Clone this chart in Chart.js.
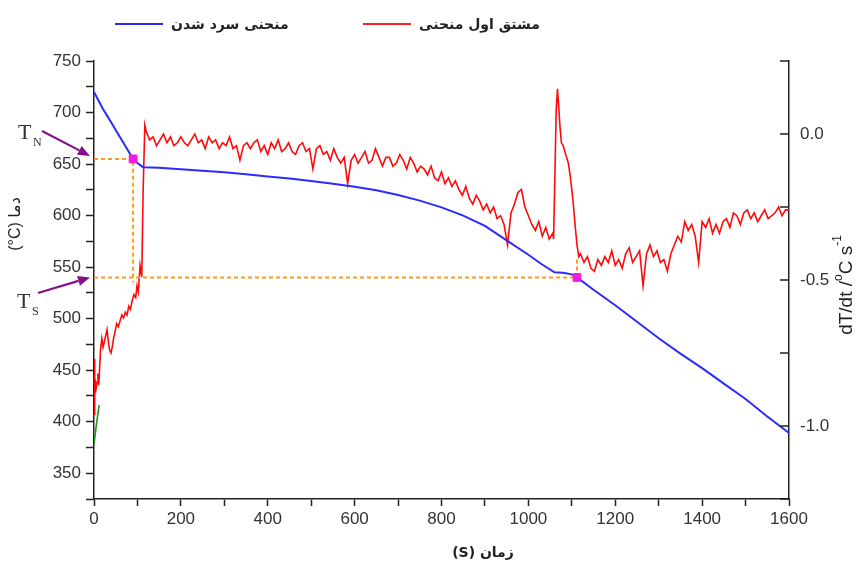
<!DOCTYPE html>
<html><head><meta charset="utf-8">
<script src="https://cdn.jsdelivr.net/npm/chart.js@4.4.1/dist/chart.umd.min.js"></script>
<style>html,body{margin:0;padding:0;background:#fff}#wrap{width:861px;height:566px}</style>
</head><body><div id="wrap"><canvas id="c" width="861" height="566"></canvas></div>
<script>
// ---- data ----
const legendLabels = ['منحنی سرد شدن', 'مشتق اول منحنی'];
const coolT = [0,10,20,30,40,50,60,70,80,90,100,113,150,200,250,300,350,400,450,500,550,600,650,700,750,800,850,900,950,1000,1030,1060,1080,1100,1112,1150,1200,1250,1300,1350,1400,1450,1500,1550,1600];
const coolV = [720,712,704,697,690,683,676,669,662,655,651,647,646.5,645,643.5,642,640,638,636,633.5,631,628,624.5,620,614.5,608,600,590,576,562,553,545,544.5,543,540,528,513,497,481,466,452,437,422,405,389];

const derivT = [0,1,2,3,5,7,9,11,13,15,18,21,24,27,30,33,36,39,42,45,48,52,56,60,64,68,72,76,80,84,88,92,96,99,102,106,110,113,117,
120,128,136,144,152,160,168,176,184,192,
200,208,216,224,232,240,248,256,264,272,
280,288,296,304,312,320,328,336,344,352,
360,368,376,384,392,400,408,416,424,432,
440,448,456,464,472,480,488,496,504,512,
520,528,536,544,552,560,568,576,584,592,
600,608,616,624,632,640,648,656,664,672,
680,688,696,704,712,720,728,736,744,752,
760,768,776,784,792,800,808,816,824,832,
840,848,856,864,872,880,888,896,904,912,
920,928,936,944,952,960,968,976,984,992,
1000,1008,1016,1024,1032,1040,1048,1056,
1058,1061,1064,1067,1070,1073,1076,1080,1084,1088,1092,1096,1100,1104,1108,1112,1116,
1120,1128,1136,1144,1152,1160,1168,1176,1184,1192,
1200,1208,1216,1224,1232,1240,1248,1256,1264,1272,
1280,1288,1296,1304,1312,1320,1328,1336,1344,1352,
1360,1368,1376,1384,1392,1400,1408,1416,1424,1432,
1440,1448,1456,1464,1472,1480,1488,1496,1504,1512,
1520,1528,1536,1544,1552,1560,1568,1576,1584,1592,1600];
const derivV = [-0.96,-0.77,-0.90,-0.84,-0.87,-0.85,-0.82,-0.86,-0.80,-0.74,-0.70,-0.73,-0.71,-0.69,-0.67,-0.71,-0.74,-0.75,-0.73,-0.70,-0.68,-0.65,-0.66,-0.64,-0.62,-0.63,-0.61,-0.62,-0.59,-0.60,-0.57,-0.55,-0.56,-0.52,-0.54,-0.45,-0.49,-0.20,0.03,
0.01,-0.02,-0.01,-0.04,-0.02,0.00,-0.03,-0.01,-0.04,-0.03,
-0.01,-0.03,-0.04,-0.02,0.00,-0.03,-0.02,-0.05,-0.01,-0.03,
-0.02,-0.05,-0.03,-0.04,-0.01,-0.05,-0.04,-0.09,-0.04,-0.03,
-0.05,-0.03,-0.02,-0.06,-0.04,-0.07,-0.03,-0.05,-0.02,-0.06,
-0.05,-0.03,-0.06,-0.07,-0.04,-0.03,-0.06,-0.05,-0.12,-0.05,
-0.04,-0.07,-0.06,-0.09,-0.05,-0.08,-0.10,-0.08,-0.17,-0.09,
-0.07,-0.10,-0.08,-0.06,-0.10,-0.09,-0.05,-0.08,-0.11,-0.08,
-0.08,-0.11,-0.10,-0.07,-0.09,-0.12,-0.08,-0.10,-0.13,-0.11,
-0.12,-0.14,-0.11,-0.15,-0.16,-0.13,-0.17,-0.15,-0.18,-0.16,
-0.19,-0.21,-0.18,-0.22,-0.24,-0.21,-0.23,-0.26,-0.24,-0.27,
-0.25,-0.29,-0.28,-0.31,-0.38,-0.27,-0.24,-0.20,-0.19,-0.25,
-0.28,-0.31,-0.33,-0.30,-0.35,-0.32,-0.36,-0.34,
-0.36,-0.15,0.08,0.155,0.09,0.02,-0.03,-0.04,-0.06,-0.08,-0.10,-0.14,-0.19,-0.25,-0.32,-0.38,-0.42,
-0.41,-0.44,-0.42,-0.46,-0.47,-0.43,-0.45,-0.42,-0.44,-0.40,
-0.45,-0.43,-0.46,-0.41,-0.39,-0.44,-0.42,-0.40,-0.52,-0.41,
-0.38,-0.42,-0.40,-0.44,-0.43,-0.47,-0.41,-0.38,-0.35,-0.37,
-0.30,-0.33,-0.31,-0.35,-0.44,-0.30,-0.32,-0.29,-0.34,-0.31,
-0.34,-0.30,-0.29,-0.32,-0.27,-0.28,-0.31,-0.27,-0.26,-0.29,
-0.27,-0.30,-0.28,-0.26,-0.29,-0.28,-0.27,-0.25,-0.28,-0.26,-0.26];

const greenT = [0,4,8,12];
const greenV = [378,392,405,416];
const tnT = [0,90,90];
const tnV = [655,655,535];
const tsT = [0,1112,1112];
const tsV = [540,540,558];
const markT = [90,1112];
const markV = [655,540];

const xTicks = [0,100,200,300,400,500,600,700,800,900,1000,1100,1200,1300,1400,1500,1600];
const xLabels = ['0','','200','','400','','600','','800','','1000','','1200','','1400','','1600'];
const yTicks = [325,350,375,400,425,450,475,500,525,550,575,600,625,650,675,700,725,750];
const yLabels = ['','350','','400','','450','','500','','550','','600','','650','','700','','750'];
const y2Ticks = [-1.25,-1.0,-0.75,-0.5,-0.25,0,0.25];
const y2Labels = ['','-1.0','','-0.5','','0.0',''];

const pts = (t, v) => t.map((x, i) => ({x: x, y: v[i]}));
const labelFor = (ticks, labels) => (val) => { const i = ticks.findIndex(t => Math.abs(t - val) < 1e-6); return i >= 0 ? labels[i] : ''; };

const AX = '#222';
const TICKFONT = {family: "'Liberation Sans', Arial, sans-serif", size: 17};

const overlay = {
  id: 'overlay',
  afterDraw(chart) {
    const ctx = chart.ctx, ca = chart.chartArea, ys = chart.scales.y, yr = chart.scales.y2;
    ctx.save();
    // inward ticks on right axis
    ctx.strokeStyle = AX; ctx.lineWidth = 1.5;
    y2Ticks.forEach(v => { const py = yr.getPixelForValue(v); ctx.beginPath(); ctx.moveTo(ca.right - 9, py); ctx.lineTo(ca.right, py); ctx.stroke(); });
    // legend
    const items = [{x: 115, color: '#2b2bff', text: legendLabels[0]}, {x: 363, color: '#ff2020', text: legendLabels[1]}];
    ctx.font = "bold 14px 'DejaVu Sans'";
    ctx.textBaseline = 'middle'; ctx.textAlign = 'left'; ctx.fillStyle = '#222';
    items.forEach(it => {
      ctx.strokeStyle = it.color; ctx.lineWidth = 2;
      ctx.beginPath(); ctx.moveTo(it.x, 24); ctx.lineTo(it.x + 48, 24); ctx.stroke();
      ctx.fillText(it.text, it.x + 56, 25);
    });
    // x title
    ctx.font = "bold 14px 'DejaVu Sans'"; ctx.textAlign = 'center';
    ctx.fillText('(S) زمان', 483, 553);
    // left title
    ctx.save(); ctx.translate(16, 224); ctx.rotate(-Math.PI / 2);
    ctx.font = "16px 'Liberation Sans', 'DejaVu Sans'"; ctx.textAlign = 'center';
    ctx.fillText('(°C) دما', 0, 0);
    ctx.restore();
    // right title
    ctx.save(); ctx.translate(847, 285); ctx.rotate(-Math.PI / 2);
    const parts = [['dT/dt /', 19, 0], ['o', 12, -8], ['C s', 19, 0], ['-1', 12, -9]];
    let total = 0;
    parts.forEach(p => { ctx.font = p[1] + "px 'Liberation Sans'"; total += ctx.measureText(p[0]).width; });
    let cx = -total / 2; ctx.textAlign = 'left';
    parts.forEach(p => { ctx.font = p[1] + "px 'Liberation Sans'"; ctx.fillText(p[0], cx, p[2]); cx += ctx.measureText(p[0]).width; });
    ctx.restore();
    // TN / TS labels
    ctx.fillStyle = '#333'; ctx.textBaseline = 'alphabetic'; ctx.textAlign = 'left';
    ctx.font = "22px 'Liberation Serif'"; ctx.fillText('T', 18, 139);
    ctx.font = "12px 'Liberation Serif'"; ctx.fillText('N', 33, 146);
    ctx.font = "22px 'Liberation Serif'"; ctx.fillText('T', 17, 308);
    ctx.font = "12px 'Liberation Serif'"; ctx.fillText('S', 32, 315);
    // arrows
    const arrow = (x0, y0, x1, y1) => {
      ctx.strokeStyle = '#85108a'; ctx.fillStyle = '#85108a'; ctx.lineWidth = 2.2;
      const a = Math.atan2(y1 - y0, x1 - x0), L = 12, W = 5;
      const bx = x1 - L * Math.cos(a), by = y1 - L * Math.sin(a);
      ctx.beginPath(); ctx.moveTo(x0, y0); ctx.lineTo(bx, by); ctx.stroke();
      ctx.beginPath(); ctx.moveTo(x1, y1);
      ctx.lineTo(bx + W * Math.sin(a), by - W * Math.cos(a));
      ctx.lineTo(bx - W * Math.sin(a), by + W * Math.cos(a));
      ctx.closePath(); ctx.fill();
    };
    arrow(42, 131, ca.left - 4, ys.getPixelForValue(tnV[0]) - 3);
    arrow(38, 293, ca.left - 4, ys.getPixelForValue(tsV[0]));
    ctx.restore();
  }
};

new Chart(document.getElementById('c'), {
  type: 'line',
  data: {
    datasets: [
      {label: 'marks', type: 'scatter', data: pts(markT, markV), yAxisID: 'y', pointStyle: 'rect', pointRadius: 5.5, backgroundColor: '#f01ce0', borderColor: '#f01ce0', order: 0},
      {label: 'tn', data: pts(tnT, tnV), yAxisID: 'y', borderColor: '#ff9a1a', borderWidth: 2, borderDash: [4, 3], pointRadius: 0, order: 1},
      {label: 'ts', data: pts(tsT, tsV), yAxisID: 'y', borderColor: '#ff9a1a', borderWidth: 2, borderDash: [4, 3], pointRadius: 0, order: 1},
      {label: legendLabels[0], data: pts(coolT, coolV), yAxisID: 'y', borderColor: '#2b2bff', borderWidth: 2, pointRadius: 0, order: 2},
      {label: legendLabels[1], data: pts(derivT, derivV), yAxisID: 'y2', borderColor: '#ff0a0a', borderWidth: 1.6, pointRadius: 0, order: 3},
      {label: 'green', data: pts(greenT, greenV), yAxisID: 'y', borderColor: '#1a9a1a', borderWidth: 1.6, pointRadius: 0, order: 4}
    ]
  },
  options: {
    responsive: false, animation: false, devicePixelRatio: 1,
    layout: {padding: {top: 61, left: 0, right: 0, bottom: 0}},
    plugins: {legend: {display: false}, tooltip: {enabled: false}},
    elements: {line: {tension: 0}},
    scales: {
      x: {type: 'linear', position: 'bottom', min: 0, max: 1600,
        afterBuildTicks: s => { s.ticks = xTicks.map(v => ({value: v})); },
        afterFit: s => { s.height = 67; },
        ticks: {autoSkip: false, maxRotation: 0, padding: 3, color: '#333', font: TICKFONT, callback: labelFor(xTicks, xLabels)},
        grid: {drawOnChartArea: false, tickLength: 7, color: AX, tickWidth: 1.5},
        border: {color: AX, width: 1.5}},
      y: {type: 'linear', position: 'left', min: 325, max: 750,
        afterBuildTicks: s => { s.ticks = yTicks.map(v => ({value: v})); },
        afterFit: s => { s.width = 94; },
        ticks: {autoSkip: false, padding: 5, color: '#333', font: TICKFONT, callback: labelFor(yTicks, yLabels)},
        grid: {drawOnChartArea: false, tickLength: 8, color: AX, tickWidth: 1.5},
        border: {color: AX, width: 1.5}},
      y2: {type: 'linear', position: 'right', min: -1.25, max: 0.25,
        afterBuildTicks: s => { s.ticks = y2Ticks.map(v => ({value: v})); },
        afterFit: s => { s.width = 72; },
        ticks: {autoSkip: false, padding: 11, color: '#333', font: TICKFONT, callback: labelFor(y2Ticks, y2Labels)},
        grid: {drawOnChartArea: false, drawTicks: false},
        border: {color: AX, width: 1.5}}
    }
  },
  plugins: [overlay]
});
</script>
</body></html>
